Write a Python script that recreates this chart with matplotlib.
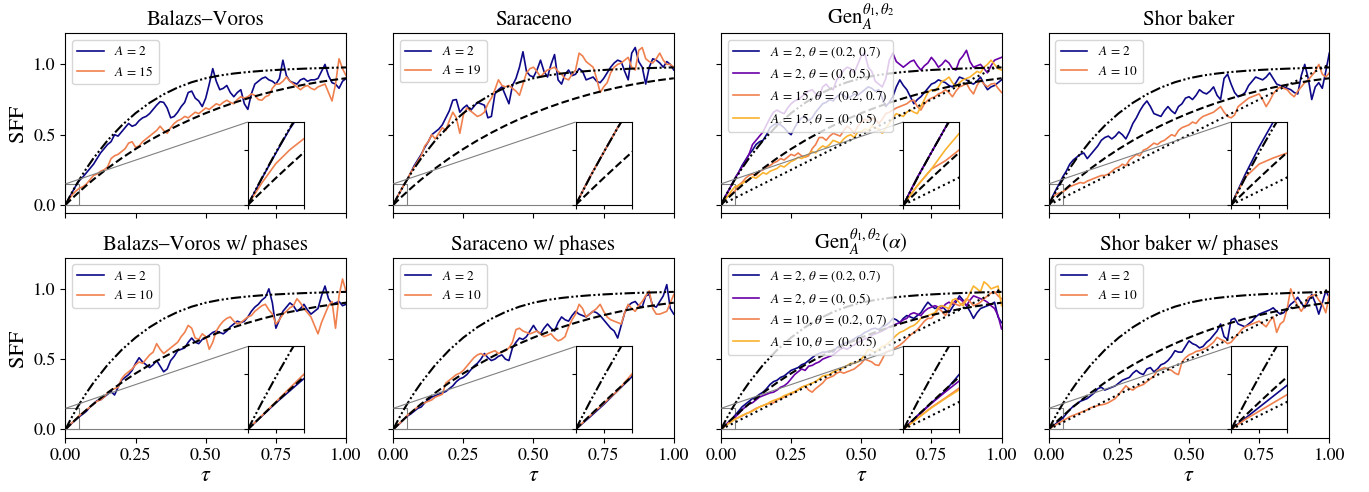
# IMPORTS #######################################
import numpy as np
import matplotlib.pyplot as plt
from mpl_toolkits.axes_grid1.inset_locator import mark_inset

# SETUP #########################################
plt.rcParams.update({
    "font.family": "STIXGeneral",
    "mathtext.fontset": "stix",
    "font.size": 13,
})

# DATA ##########################################

# sampling grid of the measured SFF curves
tau = np.linspace(0, 1, 81)

# reference curves
theory_tau = [0, 0.0125, 0.025, 0.0375, 0.05, 0.075, 0.1, 0.15, 0.2, 0.25, 0.3, 0.35,
              0.4, 0.45, 0.5, 0.55, 0.6, 0.65, 0.7, 0.75, 0.8, 0.85, 0.9, 0.95, 1.0]
coe = [0, 0.0247, 0.0488, 0.0723, 0.0952, 0.1395, 0.1818, 0.2607, 0.3327, 0.3986, 0.4590,
       0.5143, 0.5649, 0.6112, 0.6534, 0.6919, 0.7269, 0.7586, 0.7872, 0.8128, 0.8356,
       0.8557, 0.8733, 0.8885, 0.9014]
coe_fast = [0, 0.0488, 0.0952, 0.1395, 0.1818, 0.2607, 0.3327, 0.4590, 0.5649, 0.6534,
            0.7269, 0.7872, 0.8356, 0.8733, 0.9014, 0.9211, 0.9352, 0.9458, 0.9539,
            0.9603, 0.9654, 0.9696, 0.9730, 0.9759, 0.9784]
cue_tau = [0.0, 1.0]
cue = [0.0, 1.0]

# Balazs-Voros
bv_a2 = [0, .048, .094, .138, .175, .20, .23, .26,
         .29, .33, .37, .40, .43, .45, .50, .49,
         .52, .55, .58, .56, .57, .60, .62, .63,
         .65, .68, .71, .735, .73, .69, .62, .63,
         .66, .70, .73, .80, .81, .76, .74, .70,
         .76, .86, .97, .88, .82, .83, .85, .80,
         .77, .80, .82, .72, .68, .79, .86, .88,
         .90, .91, .89, .88, .86, .90, 1.03, .92,
         .88, .87, .86, .89, .90, .88, .89, .89,
         .90, .95, 1.0, .92, .87, .86, .83, .88,
         .90]
bv_a15 = [0, .04, .075, .10, .12, .13, .15, .18,
          .21, .22, .24, .25, .27, .33, .35, .36,
          .38, .40, .44, .45, .41, .42, .45, .47,
          .49, .51, .53, .56, .53, .51, .55, .58,
          .60, .61, .63, .62, .64, .66, .65, .67,
          .69, .68, .70, .72, .71, .73, .745, .73,
          .72, .75, .77, .76, .77, .79, .78, .75,
          .745, .77, .78, .83, .86, .86, .88, .91,
          .88, .86, .84, .82, .84, .85, .83, .82,
          .84, .85, .86, .80, .74, .86, 1.04, .97,
          .92]

# Saraceno
sr_a2 = [0, .05, .095, .14, .18, .23, .28, .32,
         .36, .41, .45, .50, .52, .54, .57, .62,
         .67, .745, .75, .66, .69, .71, .67, .70,
         .73, .72, .71, .62, .63, .79, .82, .84,
         .78, .72, .85, .90, .98, 1.09, .95, .92,
         .91, .96, 1.03, .95, .91, 1.0, 1.07, .89,
         .86, .93, .96, .92, .93, .97, .95, .89,
         .90, .91, .88, .87, .90, .94, .98, 1.01,
         1.03, 1.02, .95, .89, 1.08, 1.12, 1.02, .98,
         .86, .98, 1.04, 1.03, 1.01, .98, 1.02, 1.0,
         .96]
sr_a19 = [0, .05, .095, .14, .18, .23, .27, .31,
          .35, .42, .45, .50, .47, .51, .55, .53,
          .60, .66, .62, .51, .64, .69, .67, .65,
          .63, .64, .66, .72, .76, .82, .89, .85,
          .84, .85, .83, .81, .78, .86, .94, .97,
          .98, .95, .91, .94, .96, .97, .98, .95,
          .93, .90, .89, .93, .96, 1.08, 1.06, 1.02,
          1.0, .98, .90, .80, .84, .87, .94, .98,
          1.0, 1.01, 1.03, 1.05, .98, .96, 1.10, 1.12,
          1.04, 1.02, 1.01, 1.04, 1.08, 1.03, 1.0, 1.0,
          .98]

# Gen_A^{theta1, theta2}
gen_a2_t1 = [0, .05, .095, .14, .19, .23, .28, .32,
             .36, .39, .43, .45, .46, .50, .55, .57,
             .58, .57, .55, .52, .50, .55, .59, .62,
             .63, .60, .62, .66, .69, .72, .73, .75,
             .74, .77, .79, .78, .76, .77, .79, .78,
             .80, .82, .84, .83, .81, .82, .76, .70,
             .73, .77, .84, .89, .85, .82, .77, .72,
             .75, .77, .80, .83, .86, .87, .89, .88,
             .87, .85, .84, .87, .91, .90, .89, .87,
             .86, .88, .91, .86, .82, .84, .85, .87,
             .89]
gen_a2_t2 = [0, .05, .095, .14, .19, .23, .27, .31,
             .36, .43, .46, .49, .52, .57, .62, .66,
             .675, .66, .65, .69, .72, .74, .75, .77,
             .79, .81, .82, .79, .77, .84, .86, .83,
             .82, .89, .92, .96, .98, .97, .94, 1.0,
             1.06, 1.08, .98, .95, .88, .86, .84, .90,
             1.03, 1.08, 1.02, 1.0, .98, 1.0, 1.02, 1.03,
             .99, .96, .99, 1.01, 1.05, 1.02, .98, 1.0,
             1.03, 1.01, .97, .96, 1.03, 1.06, 1.10, 1.02,
             .98, .99, 1.0, .97, .94, .99, 1.03, 1.04,
             1.05]
gen_a15_t1 = [0, .035, .065, .08, .10, .14, .16, .19,
              .21, .22, .21, .24, .25, .27, .28, .30,
              .31, .33, .32, .34, .36, .35, .37, .35,
              .34, .35, .40, .43, .48, .48, .46, .49,
              .51, .50, .49, .53, .56, .54, .51, .56,
              .59, .61, .60, .62, .61, .58, .61, .65,
              .66, .675, .69, .70, .71, .72, .74, .745,
              .70, .675, .72, .745, .76, .77, .79, .80,
              .82, .80, .77, .81, .84, .85, .865, .82,
              .79, .85, .89, .86, .84, .86, .865, .83,
              .80]
gen_a15_t2 = [0, .035, .065, .10, .13, .14, .15, .17,
              .18, .20, .19, .21, .23, .22, .24, .25,
              .26, .28, .27, .29, .31, .32, .34, .33,
              .345, .36, .38, .37, .40, .42, .41, .43,
              .46, .45, .44, .47, .49, .50, .48, .52,
              .52, .54, .53, .56, .55, .54, .51, .55,
              .58, .62, .65, .64, .63, .66, .675, .66,
              .65, .70, .75, .80, .82, .81, .84, .88,
              .89, .91, .87, .84, .87, .89, .90, .91,
              .93, .95, .94, .98, 1.0, 1.03, 1.0, .97,
              .96]

# Shor baker
sb_a2 = [0, .055, .105, .15, .20, .24, .29, .32,
         .34, .36, .37, .33, .36, .39, .42, .46,
         .48, .49, .47, .49, .52, .50, .47, .52,
         .58, .62, .67, .71, .74, .70, .65, .64,
         .63, .67, .70, .67, .65, .70, .72, .76,
         .77, .75, .78, .82, .80, .79, .81, .84,
         .78, .75, .90, .93, .86, .80, .77, .78,
         .80, .85, .88, .91, .90, .89, .91, .94,
         .90, .86, .85, .84, .83, .82, .80, .79,
         .92, 1.0, .90, .75, .84, .87, .83, .95,
         1.08]
sb_a10 = [0, .05, .074, .085, .094, .11, .13, .14,
          .15, .16, .155, .17, .18, .19, .20, .21,
          .21, .22, .24, .26, .27, .29, .28, .32,
          .34, .36, .35, .39, .40, .42, .44, .43,
          .45, .46, .48, .50, .49, .53, .55, .56,
          .57, .59, .58, .61, .63, .64, .65, .66,
          .68, .70, .66, .63, .62, .64, .70, .72,
          .74, .76, .77, .78, .79, .75, .70, .74,
          .79, .82, .84, .83, .82, .79, .77, .81,
          .84, .87, .89, .92, .95, 1.0, .93, .91,
          .94]

# Balazs-Voros w/ phases
bvp_a2 = [0, .024, .048, .07, .092, .11, .13, .16,
          .18, .205, .21, .23, .25, .27, .245, .30,
          .35, .37, .39, .42, .47, .51, .48, .46,
          .44, .46, .49, .45, .41, .43, .49, .52,
          .56, .57, .58, .62, .65, .62, .61, .64,
          .65, .67, .69, .70, .69, .68, .70, .73,
          .75, .77, .76, .77, .80, .84, .87, .89,
          .92, .94, 1.0, .90, .72, .78, .84, .87,
          .90, .88, .84, .86, .89, .85, .82, .84,
          .86, .95, 1.02, .93, .89, .90, .91, .88,
          .89]
bvp_a10 = [0, .025, .05, .075, .10, .12, .14, .16,
           .18, .20, .21, .23, .26, .28, .29, .30,
           .36, .39, .41, .43, .46, .48, .47, .50,
           .53, .55, .61, .57, .54, .56, .58, .60,
           .62, .66, .69, .74, .72, .65, .64, .68,
           .66, .57, .62, .70, .74, .77, .79, .80,
           .77, .75, .76, .78, .80, .81, .84, .86,
           .88, .89, .85, .82, .75, .78, .82, .84,
           .865, .88, .93, .90, .86, .83, .80, .74,
           .68, .76, .82, .88, .91, .72, .95, 1.07,
           .98]

# Saraceno w/ phases
srp_a2 = [0, .022, .045, .07, .095, .11, .13, .15,
          .16, .19, .21, .23, .24, .25, .26, .27,
          .29, .31, .34, .36, .37, .39, .42, .45,
          .47, .50, .54, .51, .49, .50, .52, .53,
          .50, .49, .58, .62, .65, .64, .66, .70,
          .74, .70, .68, .72, .75, .72, .70, .76,
          .80, .78, .77, .81, .84, .82, .81, .80,
          .82, .84, .83, .81, .78, .75, .72, .70,
          .65, .74, .83, .88, .90, .91, .88, .87,
          .95, .96, .88, .87, .91, .95, 1.03, .86,
          .82]
srp_a10 = [0, .024, .047, .07, .10, .12, .14, .16,
           .18, .19, .20, .21, .23, .24, .25, .33,
           .35, .37, .39, .40, .42, .45, .48, .51,
           .53, .54, .525, .54, .55, .56, .54, .55,
           .56, .58, .62, .71, .72, .70, .69, .68,
           .69, .70, .68, .66, .67, .68, .65, .63,
           .64, .66, .73, .78, .82, .89, .86, .80,
           .82, .84, .86, .89, .84, .80, .78, .77,
           .76, .75, .83, .89, .86, .84, .88, .91,
           .95, .985, .86, .82, .82, .83, .84, .90,
           .96]

# Gen_A^{theta1, theta2}(alpha)
gena_a2_t1 = [0, .025, .048, .07, .10, .13, .16, .18,
              .20, .22, .23, .25, .265, .29, .32, .34,
              .35, .37, .38, .40, .42, .43, .44, .46,
              .47, .49, .51, .53, .54, .55, .55, .56,
              .55, .58, .60, .61, .62, .63, .645, .66,
              .67, .69, .70, .715, .72, .71, .73, .74,
              .76, .79, .78, .76, .79, .81, .80, .79,
              .81, .83, .87, .905, .88, .86, .87, .88,
              .85, .83, .87, .905, .95, .92, .88, .84,
              .79, .83, .86, .87, .88, .89, .905, .80,
              .76]
gena_a2_t2 = [0, .024, .047, .068, .088, .11, .14, .16,
              .18, .19, .21, .23, .24, .25, .26, .265,
              .28, .30, .31, .33, .36, .39, .41, .43,
              .42, .45, .455, .47, .48, .50, .51, .52,
              .53, .55, .57, .58, .57, .59, .60, .62,
              .63, .645, .65, .67, .68, .69, .70, .715,
              .73, .74, .75, .76, .78, .79, .82, .83,
              .82, .81, .84, .86, .87, .88, .87, .86,
              .89, .905, .89, .92, .93, .91, .88, .92,
              .95, .94, .93, .92, .905, .88, .86, .81,
              .715]
gena_a10_t1 = [0, .02, .04, .057, .075, .085, .095, .11,
               .12, .135, .15, .16, .17, .18, .185, .19,
               .21, .22, .23, .245, .255, .265, .285, .30,
               .31, .28, .265, .29, .31, .33, .36, .37,
               .38, .40, .41, .40, .41, .42, .43, .45,
               .47, .50, .49, .48, .46, .455, .50, .55,
               .56, .57, .585, .60, .62, .645, .67, .69,
               .71, .74, .77, .79, .79, .82, .86, .84,
               .81, .86, .905, .89, .88, .90, .93, .91,
               .88, .89, .905, .93, .95, .97, .98, .95,
               .93]
gena_a10_t2 = [0, .02, .039, .056, .072, .085, .10, .11,
               .12, .13, .145, .16, .17, .18, .195, .206,
               .215, .225, .24, .25, .26, .27, .28, .30,
               .31, .32, .33, .34, .36, .38, .385, .39,
               .41, .42, .43, .44, .455, .47, .47, .48,
               .50, .53, .57, .56, .55, .57, .59, .60,
               .62, .645, .67, .69, .70, .715, .73, .74,
               .76, .79, .80, .81, .82, .83, .87, .88,
               .87, .86, .92, .93, .90, .88, .92, .97,
               1.02, 1.0, .98, 1.05, 1.03, 1.0, 1.01, 1.02,
               .88]

# Shor baker w/ phases
sbp_a2 = [0, .02, .04, .06, .08, .11, .14, .165,
          .18, .20, .21, .22, .24, .26, .29, .30,
          .28, .29, .30, .31, .33, .35, .36, .37,
          .40, .42, .40, .39, .43, .44, .41, .43,
          .46, .47, .49, .52, .56, .55, .55, .59,
          .63, .61, .60, .58, .59, .62, .64, .67,
          .70, .75, .66, .64, .78, .79, .75, .74,
          .73, .75, .77, .80, .82, .83, .84, .85,
          .865, .84, .82, .83, .86, .89, .91, .94,
          .90, .865, .91, .96, .90, .82, .90, .985,
          .94]
sbp_a10 = [0, .018, .033, .048, .063, .075, .09, .10,
           .11, .12, .13, .14, .155, .16, .17, .175,
           .18, .19, .205, .22, .25, .28, .31, .29,
           .28, .30, .31, .32, .34, .36, .38, .42,
           .43, .44, .43, .42, .40, .39, .48, .51,
           .53, .54, .555, .56, .57, .58, .60, .62,
           .655, .64, .63, .61, .62, .65, .68, .71,
           .73, .74, .75, .76, .77, .75, .73, .77,
           .80, .69, .75, .77, .86, 1.0, .93, .88,
           .84, .88, .94, .95, .96, .92, .89, .83,
           .96]

# STYLE #########################################
c_blue = "#0d0887"
c_purple = "#6a00a8"
c_orange = "#f0804e"
c_yellow = "#fbb32f"
dashdotdot = (0, (5, 1.2, 1, 1.2, 1, 1.2))


def lab_a(a):
    return r"$A\,=\," + a + "$"


def lab_at(a, theta):
    return r"$A\,=\," + a + r",\,\theta\,=\,(" + theta + ")$"


panels = [
    ("Balazs–Voros", [(bv_a2, c_blue, lab_a("2")), (bv_a15, c_orange, lab_a("15"))], False),
    ("Saraceno", [(sr_a2, c_blue, lab_a("2")), (sr_a19, c_orange, lab_a("19"))], False),
    (r"$\mathrm{Gen}_A^{\theta_1,\theta_2}$",
     [(gen_a2_t1, c_blue, lab_at("2", r"0.2,\,0.7")),
      (gen_a2_t2, c_purple, lab_at("2", r"0,\,0.5")),
      (gen_a15_t1, c_orange, lab_at("15", r"0.2,\,0.7")),
      (gen_a15_t2, c_yellow, lab_at("15", r"0,\,0.5"))], True),
    ("Shor baker", [(sb_a2, c_blue, lab_a("2")), (sb_a10, c_orange, lab_a("10"))], True),
    ("Balazs–Voros w/ phases", [(bvp_a2, c_blue, lab_a("2")), (bvp_a10, c_orange, lab_a("10"))], False),
    ("Saraceno w/ phases", [(srp_a2, c_blue, lab_a("2")), (srp_a10, c_orange, lab_a("10"))], False),
    (r"$\mathrm{Gen}_A^{\theta_1,\theta_2}(\alpha)$",
     [(gena_a2_t1, c_blue, lab_at("2", r"0.2,\,0.7")),
      (gena_a2_t2, c_purple, lab_at("2", r"0,\,0.5")),
      (gena_a10_t1, c_orange, lab_at("10", r"0.2,\,0.7")),
      (gena_a10_t2, c_yellow, lab_at("10", r"0,\,0.5"))], True),
    ("Shor baker w/ phases", [(sbp_a2, c_blue, lab_a("2")), (sbp_a10, c_orange, lab_a("10"))], True),
]

# FIGURE ########################################
fig, axes = plt.subplots(2, 4, figsize=(13.69, 4.92), dpi=100, sharex=True, sharey=True)
fig.subplots_adjust(left=0.0478, right=0.971, bottom=0.11, top=0.932,
                    wspace=0.168, hspace=0.247)

for ax, (title, curves, dotted) in zip(axes.flat, panels):
    ax.set_xlim(0, 1)
    ax.set_ylim(-0.06, 1.22)
    axins = ax.inset_axes([0.65, 0.0, 0.2, 0.59], transform=ax.transData)

    for target in (ax, axins):
        for y, col, lab in curves:
            target.plot(tau, y, color=col, lw=1.2, label=lab)
        target.plot(theory_tau, coe_fast, color="k", lw=1.5, ls=dashdotdot, zorder=4)
        target.plot(theory_tau, coe, color="k", lw=1.5, ls="--", zorder=4)
        if dotted:
            target.plot(cue_tau, cue, color="k", lw=1.5, ls=":", zorder=4)

    axins.set_xlim(0, 0.05)
    axins.set_ylim(0, 0.15)
    axins.set_xticks([0, 0.025, 0.05])
    axins.set_yticks([0, 0.1])
    axins.tick_params(labelbottom=False, labelleft=False, length=3)
    mark_inset(ax, axins, loc1=2, loc2=3, fc="none", ec="0.5", lw=0.8)

    ax.set_title(title, fontsize=15)
    ax.legend(loc="upper left", fontsize=9.5)
    ax.set_xticks([0, 0.25, 0.5, 0.75, 1.0])
    ax.set_yticks([0, 0.5, 1.0])
    ax.tick_params(labelsize=13)

for ax in axes[:, 0]:
    ax.set_ylabel("SFF", fontsize=16)
for ax in axes[1, :]:
    ax.set_xlabel(r"$\tau$", fontsize=16, labelpad=2)

# EXPORT ########################################
fig.savefig("out.png", dpi=100)
